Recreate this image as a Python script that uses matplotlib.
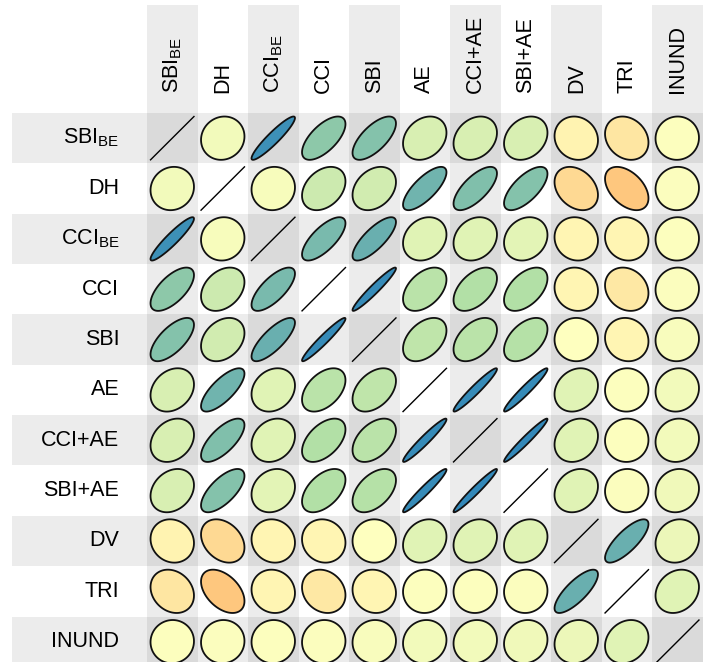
import numpy as np
import matplotlib
matplotlib.use("Agg")
import matplotlib.pyplot as plt
from matplotlib.colors import LinearSegmentedColormap
from matplotlib.patches import Polygon, Rectangle

plt.rcParams["font.family"] = ["Liberation Sans", "DejaVu Sans"]
plt.rcParams["mathtext.fontset"] = "custom"
plt.rcParams["mathtext.rm"] = "Liberation Sans"
plt.rcParams["mathtext.it"] = "Liberation Sans:italic"

# variable names (same order for rows and columns)
labels = ["SBI$_{\\mathrm{BE}}$", "DH", "CCI$_{\\mathrm{BE}}$", "CCI", "SBI", "AE",
          "CCI+AE", "SBI+AE", "DV", "TRI", "INUND"]

# correlation matrix
r_sbi_be = [1.00, 0.08, 0.93, 0.65, 0.68, 0.25, 0.25, 0.25, -0.10, -0.20, 0.02]
r_dh     = [0.08, 1.00, 0.05, 0.33, 0.30, 0.75, 0.70, 0.68, -0.30, -0.45, 0.03]
r_cci_be = [0.93, 0.05, 1.00, 0.72, 0.78, 0.20, 0.20, 0.18, -0.08, -0.08, 0.02]
r_cci    = [0.65, 0.33, 0.72, 1.00, 0.96, 0.45, 0.50, 0.50, -0.08, -0.18, 0.03]
r_sbi    = [0.68, 0.30, 0.78, 0.96, 1.00, 0.42, 0.45, 0.48, 0.00, -0.08, 0.04]
r_ae     = [0.25, 0.75, 0.20, 0.45, 0.42, 1.00, 0.96, 0.96, 0.20, 0.02, 0.08]
r_cci_ae = [0.25, 0.70, 0.20, 0.50, 0.45, 0.96, 1.00, 0.97, 0.20, 0.02, 0.08]
r_sbi_ae = [0.25, 0.68, 0.18, 0.50, 0.48, 0.96, 0.97, 1.00, 0.20, 0.03, 0.10]
r_dv     = [-0.10, -0.30, -0.08, -0.08, 0.00, 0.20, 0.20, 0.20, 1.00, 0.78, 0.12]
r_tri    = [-0.20, -0.45, -0.08, -0.18, -0.08, 0.02, 0.02, 0.03, 0.78, 1.00, 0.20]
r_inund  = [0.02, 0.03, 0.02, 0.03, 0.04, 0.08, 0.08, 0.10, 0.12, 0.20, 1.00]

corr = np.array([r_sbi_be, r_dh, r_cci_be, r_cci, r_sbi, r_ae,
                 r_cci_ae, r_sbi_ae, r_dv, r_tri, r_inund])
n = len(labels)

# spectral-like palette, nodes given in correlation units (-1..1)
nodes = [-1.0, -0.65, 0.0, 0.55, 1.0]
node_colors = ["#d7191c", "#fdae61", "#ffffbf", "#abdda4", "#2b83ba"]
cmap = LinearSegmentedColormap.from_list(
    "spec", [((v + 1) / 2, c) for v, c in zip(nodes, node_colors)])

fig = plt.figure(figsize=(7.05, 6.62), dpi=100)
ax = fig.add_axes([0, 0, 1, 1])
ax.set_xlim(-147 / 50.5, (705 - 147) / 50.5)
ax.set_ylim((662 - 113) / 50.35, -113 / 50.35)
ax.axis("off")

# alternating grey bands for rows and columns
band = (0, 0, 0, 0.075)
for k in range(0, n, 2):
    ax.add_patch(Rectangle((-2.67, k), n + 2.67, 1, facecolor=band, edgecolor="none"))
    ax.add_patch(Rectangle((k, -2.14), 1, n + 2.14, facecolor=band, edgecolor="none"))

t = np.linspace(0, 2 * np.pi, 120)
for i in range(n):
    for j in range(n):
        r = corr[i, j]
        cx, cy = j + 0.5, i + 0.5
        if i == j:
            ax.plot([cx - 0.43, cx + 0.43], [cy + 0.43, cy - 0.43], color="black", lw=1.0)
            continue
        d = np.arccos(np.clip(r, -1, 1))
        xs = cx + 0.43 * np.cos(t + d / 2)
        ys = cy - 0.43 * np.cos(t - d / 2)
        ax.add_patch(Polygon(np.column_stack([xs, ys]), closed=True,
                             facecolor=cmap((r + 1) / 2), edgecolor="#111111", lw=1.3))

for k, lab in enumerate(labels):
    ax.text(-0.55, k + 0.5, lab, ha="right", va="center", fontsize=15.5)
    ax.text(k + 0.5, -0.4, lab, ha="center", va="bottom", rotation=90, fontsize=15.5)

fig.savefig("out.png", dpi=100)
